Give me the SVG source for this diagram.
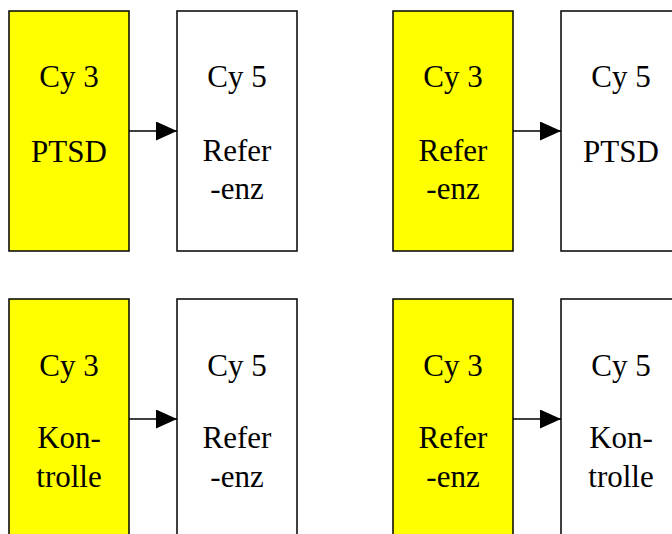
<svg xmlns="http://www.w3.org/2000/svg" width="672" height="534" viewBox="0 0 672 534">
  <style>
    .box { stroke: #000; stroke-width: 1.5; }
    .cy3 { fill: #ffff00; }
    .cy5 { fill: #ffffff; }
    .lbl { font-family: 'Liberation Serif', 'DejaVu Serif', serif; font-size: 31px; fill: #000; text-anchor: middle; }
    .link { stroke: #000; stroke-width: 1.5; fill: none; }
  </style>
  <defs>
    <marker id="head" markerUnits="userSpaceOnUse" markerWidth="21" markerHeight="19" refX="21" refY="9.5" orient="auto">
      <path d="M0,0 L21,9.5 L0,19 Z" fill="#000"/>
    </marker>
  </defs>
  <rect width="672" height="534" fill="#fff"/>

  <!-- top left pair -->
  <g id="tl-cy3">
    <rect class="box cy3" x="9" y="11" width="120" height="240"/>
    <text class="lbl" x="69" y="87">Cy 3</text>
    <text class="lbl" x="69" y="162">PTSD</text>
  </g>
  <g id="tl-cy5">
    <rect class="box cy5" x="177" y="11" width="120" height="240"/>
    <text class="lbl" x="237" y="87">Cy 5</text>
    <text class="lbl" x="237" y="161">Refer</text>
    <text class="lbl" x="237" y="199">-enz</text>
  </g>

  <!-- top right pair -->
  <g id="tr-cy3">
    <rect class="box cy3" x="393" y="11" width="120" height="240"/>
    <text class="lbl" x="453" y="87">Cy 3</text>
    <text class="lbl" x="453" y="161">Refer</text>
    <text class="lbl" x="453" y="199">-enz</text>
  </g>
  <g id="tr-cy5">
    <rect class="box cy5" x="561" y="11" width="120" height="240"/>
    <text class="lbl" x="621" y="87">Cy 5</text>
    <text class="lbl" x="621" y="162">PTSD</text>
  </g>

  <!-- bottom left pair -->
  <g id="bl-cy3">
    <rect class="box cy3" x="9" y="299" width="120" height="240"/>
    <text class="lbl" x="69" y="376">Cy 3</text>
    <text class="lbl" x="69" y="448">Kon-</text>
    <text class="lbl" x="69" y="487">trolle</text>
  </g>
  <g id="bl-cy5">
    <rect class="box cy5" x="177" y="299" width="120" height="240"/>
    <text class="lbl" x="237" y="376">Cy 5</text>
    <text class="lbl" x="237" y="448">Refer</text>
    <text class="lbl" x="237" y="487">-enz</text>
  </g>

  <!-- bottom right pair -->
  <g id="br-cy3">
    <rect class="box cy3" x="393" y="299" width="120" height="240"/>
    <text class="lbl" x="453" y="376">Cy 3</text>
    <text class="lbl" x="453" y="448">Refer</text>
    <text class="lbl" x="453" y="487">-enz</text>
  </g>
  <g id="br-cy5">
    <rect class="box cy5" x="561" y="299" width="120" height="240"/>
    <text class="lbl" x="621" y="376">Cy 5</text>
    <text class="lbl" x="621" y="448">Kon-</text>
    <text class="lbl" x="621" y="487">trolle</text>
  </g>

  <!-- connectors -->
  <g id="connectors">
    <line class="link" x1="129" y1="131" x2="177" y2="131" marker-end="url(#head)"/>
    <line class="link" x1="513" y1="131" x2="561" y2="131" marker-end="url(#head)"/>
    <line class="link" x1="129" y1="419" x2="177" y2="419" marker-end="url(#head)"/>
    <line class="link" x1="513" y1="419" x2="561" y2="419" marker-end="url(#head)"/>
  </g>
</svg>
